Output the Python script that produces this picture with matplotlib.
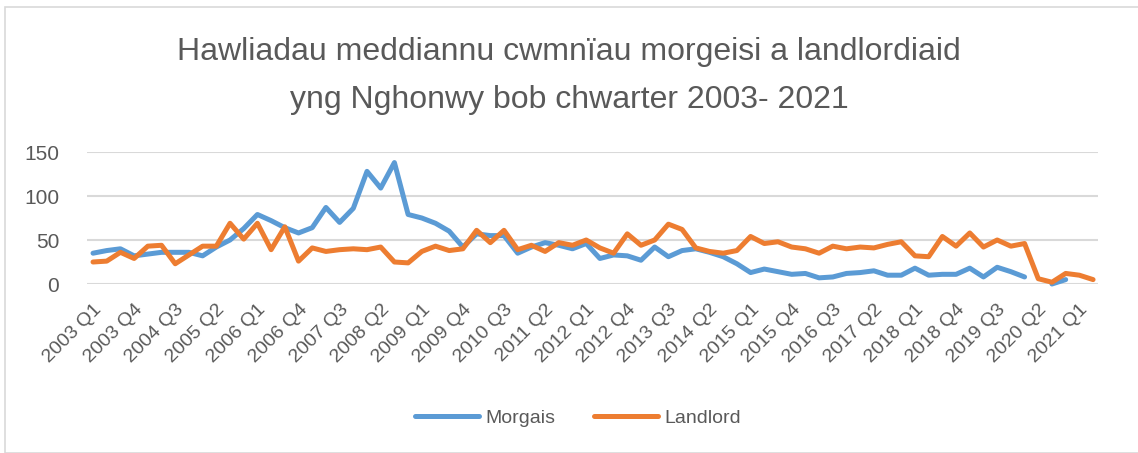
import numpy as np
import matplotlib
matplotlib.use("Agg")
import matplotlib.pyplot as plt
from matplotlib.patches import Rectangle

plt.rcParams['font.family'] = ['Liberation Sans', 'DejaVu Sans']

# quarters 2003 Q1 .. 2021 Q2
quarters = [f"{y} Q{q}" for y in range(2003, 2022) for q in range(1, 5)][:74]

morgais = [35, 38, 40, 32, 34, 36, 36, 36, 32, 42,
           50, 63, 79, 72, 64, 58, 64, 87, 70, 86,
           128, 109, 138, 79, 75, 69, 60, 42, 57, 55,
           55, 35, 42, 47, 44, 40, 46, 29, 33, 32,
           27, 42, 31, 38, 40, 36, 31, 23, 13, 17,
           14, 11, 12, 7, 8, 12, 13, 15, 10, 10,
           18, 10, 11, 11, 18, 8, 19, 14, 8, np.nan,
           0, 5, np.nan, np.nan]

landlord = [25, 26, 36, 29, 43, 44, 23, 33, 43, 43,
            69, 51, 69, 39, 65, 26, 41, 37, 39, 40,
            39, 42, 25, 24, 37, 43, 38, 40, 61, 47,
            61, 39, 44, 37, 47, 44, 50, 41, 35, 57,
            44, 50, 68, 62, 41, 37, 35, 38, 54, 46,
            48, 42, 40, 35, 43, 40, 42, 41, 45, 48,
            32, 31, 54, 43, 58, 42, 50, 43, 46, 6,
            2, 12, 10, 5]

title = "Hawliadau meddiannu cwmnïau morgeisi a landlordiaid\nyng Nghonwy bob chwarter 2003- 2021"

txt = '#595959'
W, H = 1138, 453
fig = plt.figure(figsize=(W/100, H/100), dpi=100)
fig.patches.append(Rectangle((5/W, 0), 1.2, 1 - 7/H, transform=fig.transFigure,
                             fill=False, edgecolor='#D9D9D9', lw=1.2))

ax = fig.add_axes([87/W, 1 - 284/H, (1098 - 87)/W, (284 - 152)/H])
x = np.arange(len(quarters))
ax.plot(x, morgais, color='#5B9BD5', lw=3.6, label='Morgais', clip_on=False,
        solid_joinstyle='round', solid_capstyle='round')
ax.plot(x, landlord, color='#ED7D31', lw=3.6, label='Landlord', clip_on=False,
        solid_joinstyle='round', solid_capstyle='round')

ax.set_ylim(0, 150)
ax.set_yticks([0, 50, 100, 150])
ax.set_xlim(-0.44, 73.36)
ax.set_xticks(x[::3])
ax.set_xticklabels(quarters[::3], rotation=45, ha='right', va='top',
                   rotation_mode='anchor', fontsize=14, color=txt)
ax.tick_params(axis='x', length=0, pad=12)
ax.tick_params(axis='y', length=0, pad=20, labelsize=15, labelcolor=txt)
ax.grid(axis='y', color='#D9D9D9', lw=1.5)
ax.set_axisbelow(True)
for s in ax.spines.values():
    s.set_visible(False)

fig.text(0.5, 1 - 76/H, title, ha='center', va='center', fontsize=23,
         color=txt, linespacing=1.75)

fig.legend(loc='center', bbox_to_anchor=(578/W, 1 - 418/H), ncol=2, frameon=False,
           fontsize=14, labelcolor=txt, handlelength=3.3, columnspacing=2.0,
           handletextpad=0.3)

fig.savefig('out.png', dpi=100)
